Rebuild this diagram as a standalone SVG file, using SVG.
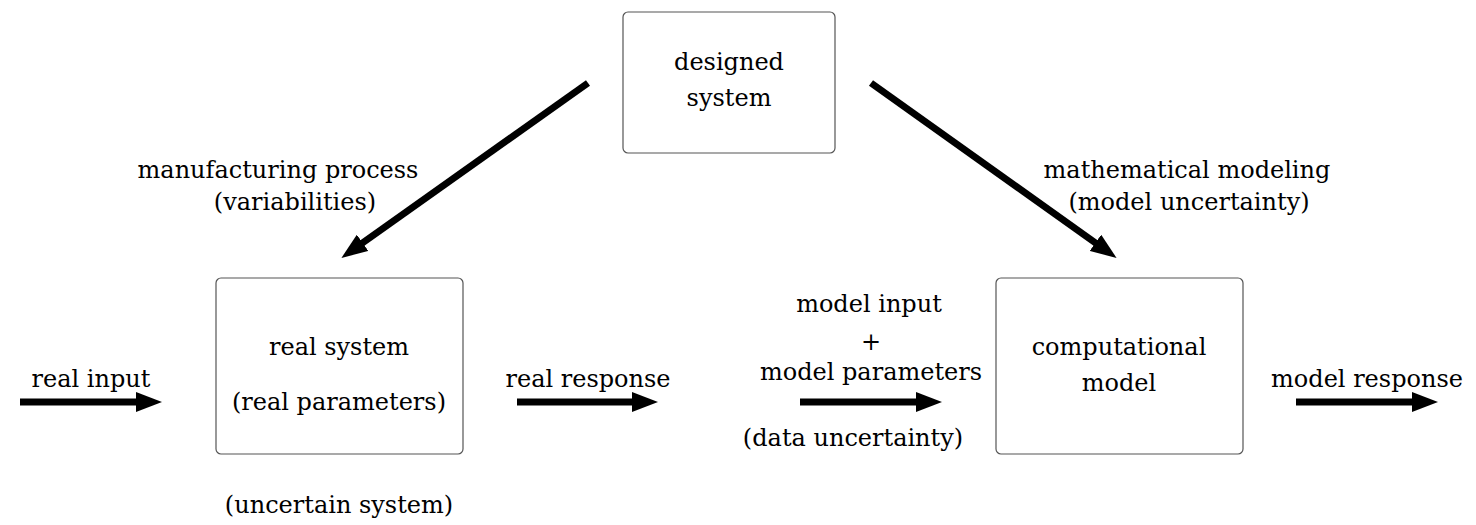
<svg xmlns="http://www.w3.org/2000/svg" width="1476" height="525" viewBox="0 0 1476 525">
<style>
text{font-family:"DejaVu Serif","Liberation Serif",serif;font-size:24px;fill:#000;text-anchor:middle}
.box{fill:#fff;stroke:#555;stroke-width:1.2}
.c{stroke:#000;stroke-width:7;fill:none}
</style>
<defs><marker id="a" markerUnits="userSpaceOnUse" markerWidth="26" markerHeight="20" refX="2" refY="10" orient="auto"><path d="M0,0 L26,10 L0,20 Z" fill="#000"/></marker></defs>
<rect width="1476" height="525" fill="#fff"/>
<g id="designed"><rect class="box" x="623" y="12" width="212" height="141" rx="5"/><text x="729" y="70">designed</text><text x="729" y="106">system</text></g>
<g id="real"><rect class="box" x="216" y="278" width="247" height="176" rx="5"/><text x="339" y="355">real system</text><text x="339" y="410">(real parameters)</text></g>
<g id="comp"><rect class="box" x="996" y="278" width="247" height="176" rx="5"/><text x="1119" y="355">computational</text><text x="1119" y="391">model</text></g>
<g id="connectors">
<line class="c" x1="588" y1="83" x2="361" y2="244" marker-end="url(#a)"/>
<line class="c" x1="871" y1="83" x2="1097" y2="244" marker-end="url(#a)"/>
<line class="c" x1="20" y1="402" x2="138" y2="402" marker-end="url(#a)"/>
<line class="c" x1="517" y1="402" x2="634" y2="402" marker-end="url(#a)"/>
<line class="c" x1="800" y1="402" x2="918" y2="402" marker-end="url(#a)"/>
<line class="c" x1="1296" y1="402" x2="1414" y2="402" marker-end="url(#a)"/>
</g>
<g id="labels">
<text x="278" y="178">manufacturing process</text><text x="295" y="210">(variabilities)</text>
<text x="1187" y="178">mathematical modeling</text><text x="1189" y="210">(model uncertainty)</text>
<text x="91" y="387">real input</text>
<text x="588" y="387">real response</text>
<text x="869" y="312">model input</text><text x="871" y="350">+</text><text x="871" y="380">model parameters</text>
<text x="853" y="446">(data uncertainty)</text>
<text x="1367" y="387">model response</text>
<text x="339" y="513">(uncertain system)</text>
</g>
</svg>
